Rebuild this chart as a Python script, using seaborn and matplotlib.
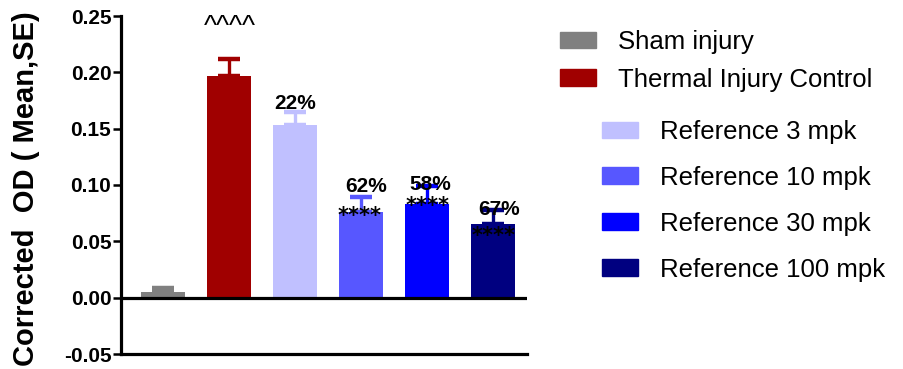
import matplotlib
matplotlib.use("Agg")
import matplotlib.pyplot as plt
from matplotlib.patches import Patch
import pandas as pd
import seaborn as sns

# ---------------------- data -----------------------
groups = ['Sham injury', 'Thermal Injury Control', 'Reference 3 mpk',
          'Reference 10 mpk', 'Reference 30 mpk', 'Reference 100 mpk']
means = [0.005, 0.197, 0.153, 0.076, 0.083, 0.065]
sems = [0.004, 0.015, 0.012, 0.013, 0.016, 0.013]
colors = ['#808080', '#A00000', '#C0C0FF', '#5757FF', '#0000FF', '#000080']

# text marks above bars: (group index, text, y value, x shift)
pct_labels = [(2, '22%', 0.172, 0.0), (3, '62%', 0.0985, 0.08),
              (4, '58%', 0.100, 0.05), (5, '67%', 0.078, 0.09)]
star_labels = [(3, '****', 0.0727, -0.03), (4, '****', 0.0816, 0.01),
               (5, '****', 0.0550, 0.0)]
caret_label = (1, '^^^^', 0.2405, 0.0)

df = pd.DataFrame({'group': groups, 'mean': means, 'sem': sems})

sns.set_style('ticks')
plt.rcParams['font.family'] = ['Liberation Sans', 'DejaVu Sans']
plt.rcParams['text.color'] = 'black'
plt.rcParams['axes.labelcolor'] = 'black'
plt.rcParams['ytick.color'] = 'black'
plt.rcParams['axes.edgecolor'] = 'black'

fig = plt.figure(figsize=(9.04, 3.69), dpi=100)
ax = fig.add_axes([121 / 904, 15 / 369, 406 / 904, 338 / 369])

sns.barplot(data=df, x='group', y='mean', hue='group', palette=colors,
            order=groups, hue_order=groups, saturation=1, width=0.667,
            linewidth=0, errorbar=None, legend=False, ax=ax)

# upward-only error bars
for i, (m, s, c) in enumerate(zip(means, sems, colors)):
    ax.errorbar(i, m, yerr=[[0], [s]], color=c, elinewidth=2.4,
                capsize=8, capthick=3.2, fmt='none', zorder=3)

for i, txt, y, dx in pct_labels:
    ax.text(i + dx, y, txt, ha='center', va='center', fontsize=15,
            fontweight='bold', zorder=5)
for i, txt, y, dx in star_labels:
    ax.text(i + dx, y, txt, ha='center', va='center', fontsize=15,
            fontweight='bold', family='DejaVu Sans', zorder=5)
i, txt, y, dx = caret_label
ax.text(i + dx, y, txt, ha='center', va='center', fontsize=20, zorder=5)

# axes
ax.axhline(0, color='black', lw=2.3, zorder=4)
ax.set_ylim(-0.05, 0.25)
ax.set_xlim(-0.644, 5.515)
ax.set_yticks([-0.05, 0.0, 0.05, 0.10, 0.15, 0.20, 0.25])
ax.set_yticklabels([f'{v:.2f}' for v in ax.get_yticks()])
ax.set_xticks([])
ax.set_xlabel('')
ax.tick_params(axis='y', length=6, width=1.8, pad=1, labelsize=15)
for lab in ax.get_yticklabels():
    lab.set_fontweight('bold')
ax.set_ylabel('Corrected  OD ( Mean,SE)', fontsize=21, fontweight='bold')
ax.yaxis.set_label_coords(-0.2, 0.488)
sns.despine(ax=ax)
ax.spines['left'].set_linewidth(2.3)
ax.spines['bottom'].set_linewidth(2.3)

# legends: controls, then dose groups
handles = [Patch(facecolor=c, edgecolor=c) for c in colors]
leg_kw = dict(frameon=False, fontsize=18.5, handlelength=1.4,
              handleheight=0.62, handletextpad=0.86, borderpad=0,
              borderaxespad=0, loc='upper left')
fig.legend(handles[:2], groups[:2], labelspacing=0.53,
           bbox_to_anchor=(560 / 904, 1 - 30 / 369), **leg_kw)
fig.legend(handles[2:], groups[2:], labelspacing=0.85,
           bbox_to_anchor=(602 / 904, 1 - 120 / 369), **leg_kw)

fig.savefig('out.png', dpi=100)
